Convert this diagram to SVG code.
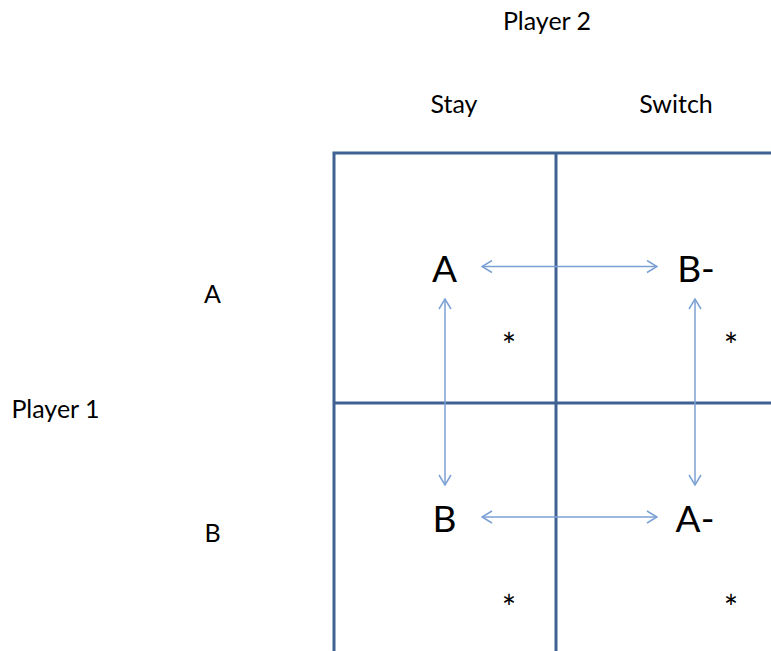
<svg xmlns="http://www.w3.org/2000/svg" width="771" height="651" viewBox="0 0 771 651">
<style>
.t{font-family:Lato,"Open Sans","Liberation Sans",sans-serif;fill:#000;text-anchor:middle}
.lbl{font-size:25px}
.big{font-size:37px}
.ast{font-size:34px}
.grid{stroke:#3f6293;stroke-width:3;fill:none}
.arr{stroke:#7ba0d4;stroke-width:1.5;fill:none}
</style>
<defs>
<marker id="ah" viewBox="0 0 12 14" refX="11" refY="7" markerWidth="12" markerHeight="14" markerUnits="userSpaceOnUse" orient="auto-start-reverse">
<path d="M1,1 L11,7 L1,13" fill="none" stroke="#7ba0d4" stroke-width="1.5"/>
</marker>
</defs>
<rect width="771" height="651" fill="#fff"/>
<g id="grid">
<path class="grid" d="M334,651 V153 H771 M556,153 V651 M334,403 H771"/>
</g>
<g id="headers">
<text class="t lbl" x="547" y="30">Player 2</text>
<text class="t lbl" x="454" y="113">Stay</text>
<text class="t lbl" x="676" y="113">Switch</text>
<text class="t lbl" x="55.5" y="418">Player 1</text>
<text class="t lbl" x="212.5" y="303">A</text>
<text class="t lbl" x="212.5" y="542">B</text>
</g>
<g id="node-A"><text class="t big" x="444.5" y="282">A</text></g>
<g id="node-Bminus"><text class="t big" x="696" y="282">B-</text></g>
<g id="node-B"><text class="t big" x="444.5" y="532">B</text></g>
<g id="node-Aminus"><text class="t big" x="695" y="532">A-</text></g>
<g id="stars">
<text class="t ast" x="509" y="358">*</text>
<text class="t ast" x="731" y="358">*</text>
<text class="t ast" x="509" y="620">*</text>
<text class="t ast" x="731" y="620">*</text>
</g>
<g id="connectors">
<line class="arr" x1="482" y1="266.5" x2="657" y2="266.5" marker-start="url(#ah)" marker-end="url(#ah)"/>
<line class="arr" x1="482" y1="517" x2="657" y2="517" marker-start="url(#ah)" marker-end="url(#ah)"/>
<line class="arr" x1="445" y1="299" x2="445" y2="485" marker-start="url(#ah)" marker-end="url(#ah)"/>
<line class="arr" x1="695" y1="299" x2="695" y2="485" marker-start="url(#ah)" marker-end="url(#ah)"/>
</g>
</svg>
